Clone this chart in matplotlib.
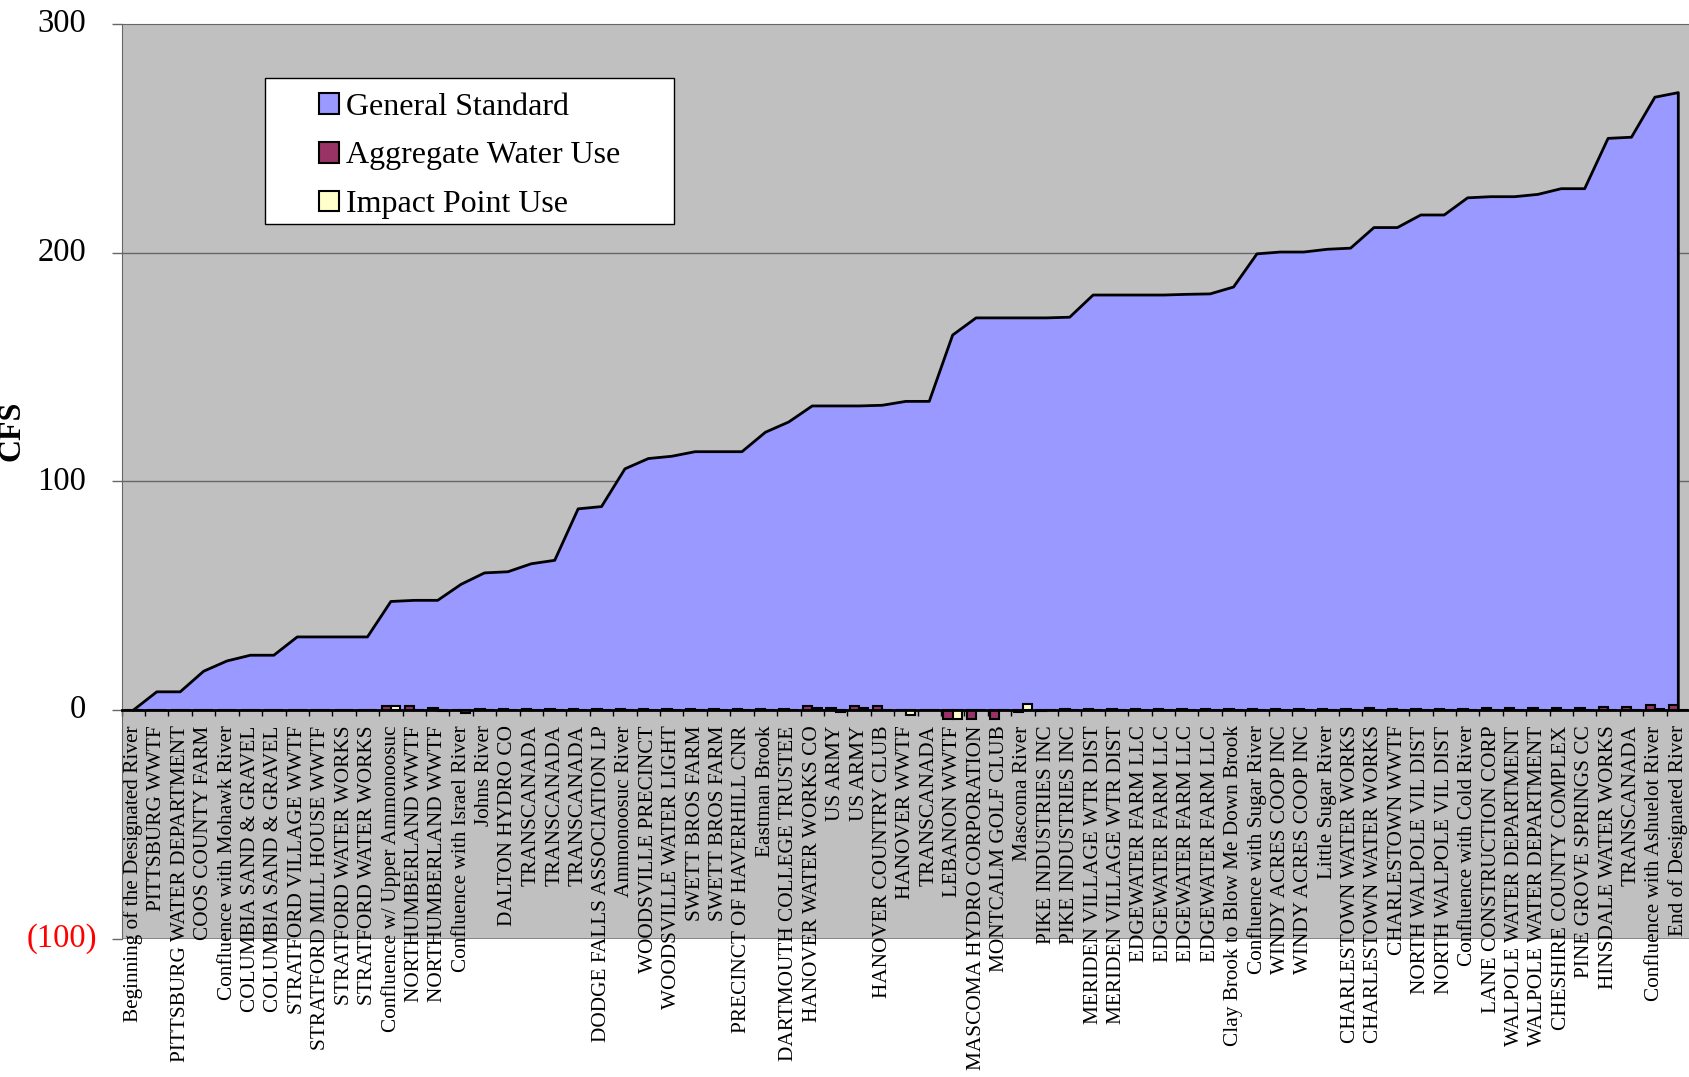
import numpy as np
import matplotlib
matplotlib.use("Agg")
import matplotlib.pyplot as plt
from matplotlib.patches import Patch, Rectangle
from matplotlib.transforms import blended_transform_factory

plt.rcParams.update({"font.family": ["Liberation Serif", "DejaVu Serif"]})

categories = [
    "Beginning of the Designated River", "PITTSBURG WWTF", "PITTSBURG WATER DEPARTMENT",
    "COOS COUNTY FARM", "Confluence with Mohawk River", "COLUMBIA SAND & GRAVEL",
    "COLUMBIA SAND & GRAVEL", "STRATFORD VILLAGE WWTF", "STRATFORD MILL HOUSE WWTF",
    "STRATFORD WATER WORKS", "STRATFORD WATER WORKS", "Confluence w/ Upper Ammonoosuc",
    "NORTHUMBERLAND WWTF", "NORTHUMBERLAND WWTF", "Confluence with Israel River",
    "Johns River", "DALTON HYDRO CO", "TRANSCANADA", "TRANSCANADA", "TRANSCANADA",
    "DODGE FALLS ASSOCIATION LP", "Ammonoosuc River", "WOODSVILLE PRECINCT",
    "WOODSVILLE WATER LIGHT", "SWETT BROS FARM", "SWETT BROS FARM",
    "PRECINCT OF HAVERHILL CNR", "Eastman Brook", "DARTMOUTH COLLEGE TRUSTEE",
    "HANOVER WATER WORKS CO", "US ARMY", "US ARMY", "HANOVER COUNTRY CLUB",
    "HANOVER WWTF", "TRANSCANADA", "LEBANON WWTF", "MASCOMA HYDRO CORPORATION",
    "MONTCALM GOLF CLUB", "Mascoma River", "PIKE INDUSTRIES INC", "PIKE INDUSTRIES INC",
    "MERIDEN VILLAGE WTR DIST", "MERIDEN VILLAGE WTR DIST", "EDGEWATER FARM LLC",
    "EDGEWATER FARM LLC", "EDGEWATER FARM LLC", "EDGEWATER FARM LLC",
    "Clay Brook to Blow Me Down Brook", "Confluence with Sugar River",
    "WINDY ACRES COOP INC", "WINDY ACRES COOP INC", "Little Sugar River",
    "CHARLESTOWN WATER WORKS", "CHARLESTOWN WATER WORKS", "CHARLESTOWN WWTF",
    "NORTH WALPOLE VIL DIST", "NORTH WALPOLE VIL DIST", "Confluence with Cold River",
    "LANE CONSTRUCTION CORP", "WALPOLE WATER DEPARTMENT", "WALPOLE WATER DEPARTMENT",
    "CHESHIRE COUNTY COMPLEX", "PINE GROVE SPRINGS CC", "HINSDALE WATER WORKS",
    "TRANSCANADA", "Confluence with Ashuelot River", "End of Designated River",
]

general_standard = [
    0, 8, 8, 17, 21.5, 24, 24, 32, 32, 32, 32, 47.5, 48, 48, 55, 60, 60.5, 64, 65.5,
    88, 89, 105.5, 110, 111, 113, 113, 113, 121.5, 126, 133, 133, 133, 133.3, 135, 135,
    164, 171.5, 171.5, 171.5, 171.5, 171.8, 181.5, 181.5, 181.5, 181.5, 181.8, 182, 185,
    199.5, 200.3, 200.3, 201.5, 202, 211, 211, 216.5, 216.5, 224, 224.5, 224.5, 225.5,
    228, 228, 250, 250.5, 268, 270,
]

aggregate_use = [
    0, 0, 0, 0, 0, 0, 0, 0, 0, 0, 0, 2.0, 1.8, 1.1, 0.2, 0.4, 0.3, 0.3, 0.3, 0.3,
    0.3, 0.6, 0.3, 0.4, 0.4, 0.4, 0.4, 0.4, 0.4, 2.0, 1.1, 2.0, 2.0, 0, 0.2, -4.0,
    -4.0, -4.0, -0.8, -0.4, 0.7, 0.3, 0.3, 0.3, 0.3, 0.3, 0.3, 0.3, 0.5, 0.4, 0.4,
    0.4, 0.4, 1.0, 0.7, 0.7, 0.7, 0.7, 0.8, 0.8, 1.0, 1.0, 1.1, 1.3, 1.5, 2.4, 2.4,
]

impact_use = [
    0, 0, 0, 0, 0, 0, 0, 0, 0, 0, 0, 2.0, 0, -0.3, -1.1, 0, 0, 0, 0, 0,
    0, 0.1, 0, 0, 0, 0, 0, 0, 0, 1.1, -0.8, 0.8, 0, -2.0, 0, -4.0,
    0, 0, 2.6, 0, 0.1, 0, 0, 0, 0, 0, 0, 0, 0, 0, 0,
    0, 0, 0.2, 0, 0, 0, 0, 0, 0, 0, 0, 0, 0.2, 0, 0.4, 0,
]

series_names = ["General Standard", "Aggregate Water Use", "Impact Point Use"]
yticks = [-100, 0, 100, 200, 300]

x = np.arange(len(categories))
fig = plt.figure(figsize=(16.9, 10.77), dpi=100)
ax = fig.add_axes([0.072, 0.1283, 0.928, 0.8494])
ax.set_facecolor("#C0C0C0")

ax.fill_between(x, 0, general_standard, color="#9999FF", zorder=2)
ax.plot(np.r_[x, x[-1]], np.r_[general_standard, 0], color="black", lw=2.0, zorder=3)

w = 0.4
ax.bar(x - w / 2, aggregate_use, w, color="#993366", edgecolor="black", lw=1.5, zorder=4)
ax.bar(x + w / 2, impact_use, w, color="#FFFFCC", edgecolor="black", lw=1.5, zorder=4)

ax.set_xlim(-0.5, len(categories) - 0.5)
ax.set_ylim(-100, 300)

# gridlines / frame
for v in [100, 200]:
    ax.axhline(v, color="#666666", lw=1.0, zorder=1)
for s in ["top", "left"]:
    ax.spines[s].set_color("#666666")
ax.spines["right"].set_visible(False)
ax.spines["bottom"].set_position(("data", 0))
ax.spines["bottom"].set_color("black")
ax.spines["bottom"].set_linewidth(2.0)
ax.spines["bottom"].set_zorder(5)
ax.axhline(-100, color="#808080", lw=2.0, zorder=1)

# category axis
ax.set_xticks(x)
ax.set_xticklabels(categories, rotation=90, fontsize=15.3, va="top", ha="center")
ax.set_xticks(np.arange(-0.5, len(categories), 1.0), minor=True)
ax.tick_params(axis="x", which="major", length=0, pad=11)
ax.tick_params(axis="x", which="minor", length=4, width=1, color="black", direction="out")

# value axis, negative in red with parentheses
ax.set_yticks(yticks)
ax.set_yticklabels([])
ax.tick_params(axis="y", length=7, width=1, color="#666666")
tr = blended_transform_factory(ax.transAxes, ax.transData)
for v in yticks:
    if v < 0:
        ax.text(-0.0158, v, f"({abs(v)})", transform=tr, ha="right", va="center",
                fontsize=23.5, color="red")
    else:
        ax.text(-0.0228, v, f"{v}", transform=tr, ha="right", va="center",
                fontsize=23.5, color="black")

ax.set_ylabel("CFS", fontsize=23, fontweight="bold")
ax.yaxis.set_label_coords(-0.061, 0.555)

# legend with manual frame
ax.add_patch(Rectangle((0.0914, 0.781), 0.2608, 0.160, transform=ax.transAxes,
                       facecolor="white", edgecolor="black", lw=1.0, zorder=6))
handles = [Patch(facecolor=c, edgecolor="black", lw=1.5)
           for c in ["#9999FF", "#993366", "#FFFFCC"]]
leg = ax.legend(handles, series_names, loc="upper left", bbox_to_anchor=(0.1258, 0.925),
                frameon=False, fontsize=23, borderpad=0, borderaxespad=0,
                handlelength=0.63, handleheight=0.63, handletextpad=0.22, labelspacing=0.62)
leg.set_zorder(7)

fig.savefig("out.png", dpi=100)
